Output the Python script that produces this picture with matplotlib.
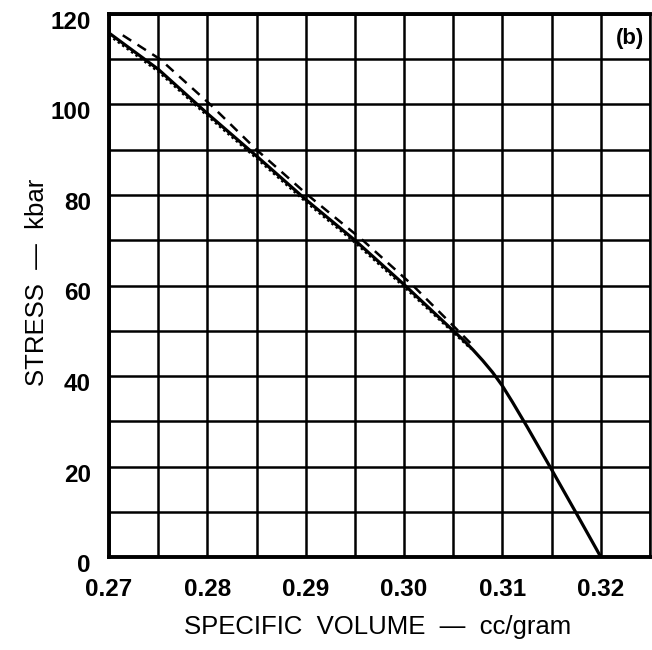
import matplotlib.pyplot as plt
import matplotlib.transforms as mtransforms
from matplotlib.ticker import MultipleLocator

# solid curve (specific volume cc/g, stress kbar)
vol_solid = [0.2700, 0.2750, 0.2800, 0.2850, 0.2900, 0.2950, 0.3000, 0.3025,
             0.3050, 0.3060, 0.3070, 0.3080, 0.3090, 0.3100, 0.3110, 0.3125,
             0.3150, 0.3175, 0.3200]
stress_solid = [115.8, 107.8, 98.0, 88.6, 79.0, 70.0, 60.2, 55.1,
                50.0, 48.0, 45.8, 43.4, 40.8, 37.8, 34.3, 28.8,
                19.3, 9.7, 0]

# dotted curve, hugging the solid one just below it
vol_dot = [0.2700, 0.2750, 0.2800, 0.2850, 0.2900, 0.2950, 0.3000, 0.3050, 0.3068]
stress_dot = [115.3, 107.3, 97.5, 88.1, 78.5, 69.5, 59.7, 49.6, 46.0]

# dashed curve, slightly above
vol_dash = [0.2714, 0.2752, 0.2803, 0.2850, 0.2902, 0.2958, 0.3009, 0.3055, 0.3071]
stress_dash = [115.3, 110, 100, 90, 80, 70, 60, 50, 46.5]

x_ticks = [0.27, 0.28, 0.29, 0.30, 0.31, 0.32]
y_ticks = [0, 20, 40, 60, 80, 100, 120]

plt.rcParams['font.family'] = ['Liberation Sans', 'DejaVu Sans']

fig = plt.figure(figsize=(6.52, 6.5), dpi=100)
ax = fig.add_axes([109 / 652, 1 - 557 / 650, 541 / 652, 543 / 650])

ax.plot(vol_solid, stress_solid, color='black', lw=2.3, solid_joinstyle='round')
ax.plot(vol_dot, stress_dot, color='black', lw=1.8, ls=(0, (1, 1.2)))
ax.plot(vol_dash, stress_dash, color='black', lw=1.8, ls=(0, (4, 3)))

ax.set_xlim(0.27, 0.325)
ax.set_ylim(0, 120)
ax.set_xticks(x_ticks)
ax.set_xticklabels([f"{v:.2f}" for v in x_ticks])
ax.set_yticks(y_ticks)
ax.xaxis.set_minor_locator(MultipleLocator(0.005))
ax.yaxis.set_minor_locator(MultipleLocator(10))
ax.grid(True, which='both', color='black', lw=1.8)
ax.tick_params(which='both', length=0)
ax.tick_params(axis='x', pad=15, labelsize=17.5)
ax.tick_params(axis='y', pad=13, labelsize=17.5)
shift = mtransforms.ScaledTranslation(0, -6 / 100, fig.dpi_scale_trans)
for lab in ax.get_yticklabels():
    lab.set_transform(lab.get_transform() + shift)
for lab in ax.get_xticklabels() + ax.get_yticklabels():
    lab.set_fontweight('bold')

for side in ['left', 'bottom', 'top']:
    ax.spines[side].set_linewidth(2.8)
ax.spines['right'].set_linewidth(1.8)

ax.set_xlabel("SPECIFIC  VOLUME  —  cc/gram", fontsize=18.5)
ax.set_ylabel("STRESS  —  kbar", fontsize=18.5)
ax.xaxis.set_label_coords(0.497, -0.106)
ax.yaxis.set_label_coords(-0.11, 0.506)

ax.text(0.99, 0.955, "(b)", transform=ax.transAxes, ha='right', va='center',
        fontsize=16, fontweight='bold')

fig.savefig("out.png", dpi=100)
